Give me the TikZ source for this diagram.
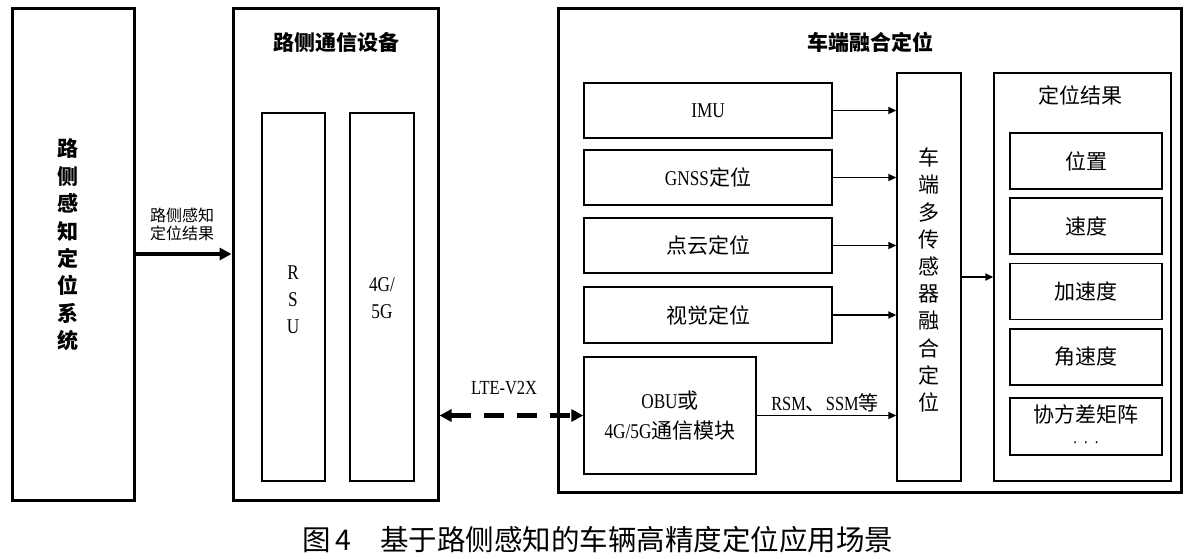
\documentclass[tikz,border=0pt]{standalone}
\usepackage{fontspec}
\setmainfont{Noto Sans CJK SC}
\newfontfamily\lat{Liberation Serif}[FakeStretch=0.82]
\usetikzlibrary{arrows.meta,calc}
\begin{document}
\begin{tikzpicture}[x=1pt,y=-1pt,
  thickbox/.style={draw,line width=3pt,inner sep=0pt},
  thinbox/.style={draw,line width=1.4pt,inner sep=0pt,font=\fontsize{21}{24}\selectfont},
  arr/.style={line width=1.9pt,-{Triangle[length=8pt,width=7pt]}},
  ttl/.style={font=\fontsize{21}{24}\selectfont\bfseries},
  vtext/.style={align=center,inner sep=0pt},
]
\useasboundingbox[fill=white] (0,0) rectangle (1191,558);
% outer boxes
\node[thickbox,minimum width=122pt,minimum height=492pt] (left) at (73,254) {};
\node[vtext,font=\fontsize{21}{27.4}\selectfont\bfseries] (lefttxt) at (68,245) {路\\侧\\感\\知\\定\\位\\系\\统};
\node[thickbox,minimum width=205pt,minimum height=492pt] (mid) at (335.5,254) {};
\node[ttl] (midttl) at (336,42) {路侧通信设备};
\node[thinbox,minimum width=63pt,minimum height=368pt] (rsu) at (293.5,297) {};
\node[vtext,font=\fontsize{21}{27}\lat] (rsutxt) at (293,300) {R\\S\\U};
\node[thinbox,minimum width=64pt,minimum height=368pt] (g45) at (382,297) {};
\node[vtext,font=\fontsize{21}{27}\lat] (g45txt) at (382,298) {4G/\\5G};
\node[thickbox,minimum width=623pt,minimum height=484pt] (right) at (869.5,250) {};
\node[ttl] (rightttl) at (870,42) {车端融合定位};
% sensor boxes
\node[thinbox,minimum width=248pt,minimum height=55pt] (imu) at (708,110.5) {\lat IMU};
\node[thinbox,minimum width=248pt,minimum height=55pt] (gnss) at (708,177.5) {{\lat GNSS}定位};
\node[thinbox,minimum width=248pt,minimum height=55pt] (pc) at (708,245.5) {点云定位};
\node[thinbox,minimum width=248pt,minimum height=56pt] (vis) at (708,315) {视觉定位};
\node[thinbox,minimum width=172pt,minimum height=117pt,align=center,font=\fontsize{21}{30}\selectfont] (obu) at (670,415.5) {{\lat OBU}或\\{\lat 4G/5G}通信模块};
% fusion
\node[thinbox,minimum width=64pt,minimum height=408pt] (fus) at (929,277) {};
\node[vtext,font=\fontsize{21}{27.2}\selectfont] (fustxt) at (929,280) {车\\端\\多\\传\\感\\器\\融\\合\\定\\位};
% results
\node[thinbox,minimum width=177pt,minimum height=408pt] (res) at (1082.5,277) {};
\node[font=\fontsize{21}{24}\selectfont] (resttl) at (1080,95) {定位结果};
\node[thinbox,minimum width=152pt,minimum height=56pt] (r1) at (1086,161) {位置};
\node[thinbox,minimum width=152pt,minimum height=56pt] (r2) at (1086,226) {速度};
\node[thinbox,minimum width=152pt,minimum height=56pt] (r3) at (1086,291.5) {加速度};
\node[thinbox,minimum width=152pt,minimum height=56pt] (r4) at (1086,357) {角速度};
\node[thinbox,minimum width=152pt,minimum height=57pt] (r5) at (1086,426.5) {};
\node[font=\fontsize{21}{24}\selectfont] (r5a) at (1086,414) {协方差矩阵};
\node[font=\fontsize{18}{18}\lat] (r5b) at (1086,443) {.\hspace{7pt}.\hspace{7pt}.};
% connectors
\draw[line width=4pt,-{Triangle[length=12pt,width=12pt]}] (left.east) -- (mid.west);
\node[align=center,font=\fontsize{16}{18}\selectfont,inner sep=0pt] (lbl1) at (182,224) {路侧感知\\定位结果};
\draw[line width=4.5pt,dash pattern=on 20pt off 13pt,{Triangle[length=12pt,width=12pt]}-{Triangle[length=12pt,width=12pt]}] (obu.west -| mid.east) -- (obu.west);
\node[font=\fontsize{20}{22}\lat] (lte) at (504,388) {LTE-V2X};
\draw[arr] (imu.east) -- (imu.east -| fus.west);
\draw[arr] (gnss.east) -- (gnss.east -| fus.west);
\draw[arr] (pc.east) -- (pc.east -| fus.west);
\draw[arr] (vis.east) -- (vis.east -| fus.west);
\draw[arr] (obu.east) -- (obu.east -| fus.west);
\node[font=\fontsize{20}{22}\selectfont] (rsm) at (825,403) {{\lat RSM}、{\lat SSM}等};
\draw[arr] (fus.east) -- (fus.east -| res.west);
% caption
\node[font=\fontsize{28.5}{30}\selectfont] (cap) at (598,540) {图\,4\quad 基于路侧感知的车辆高精度定位应用场景};
\end{tikzpicture}
\end{document}
